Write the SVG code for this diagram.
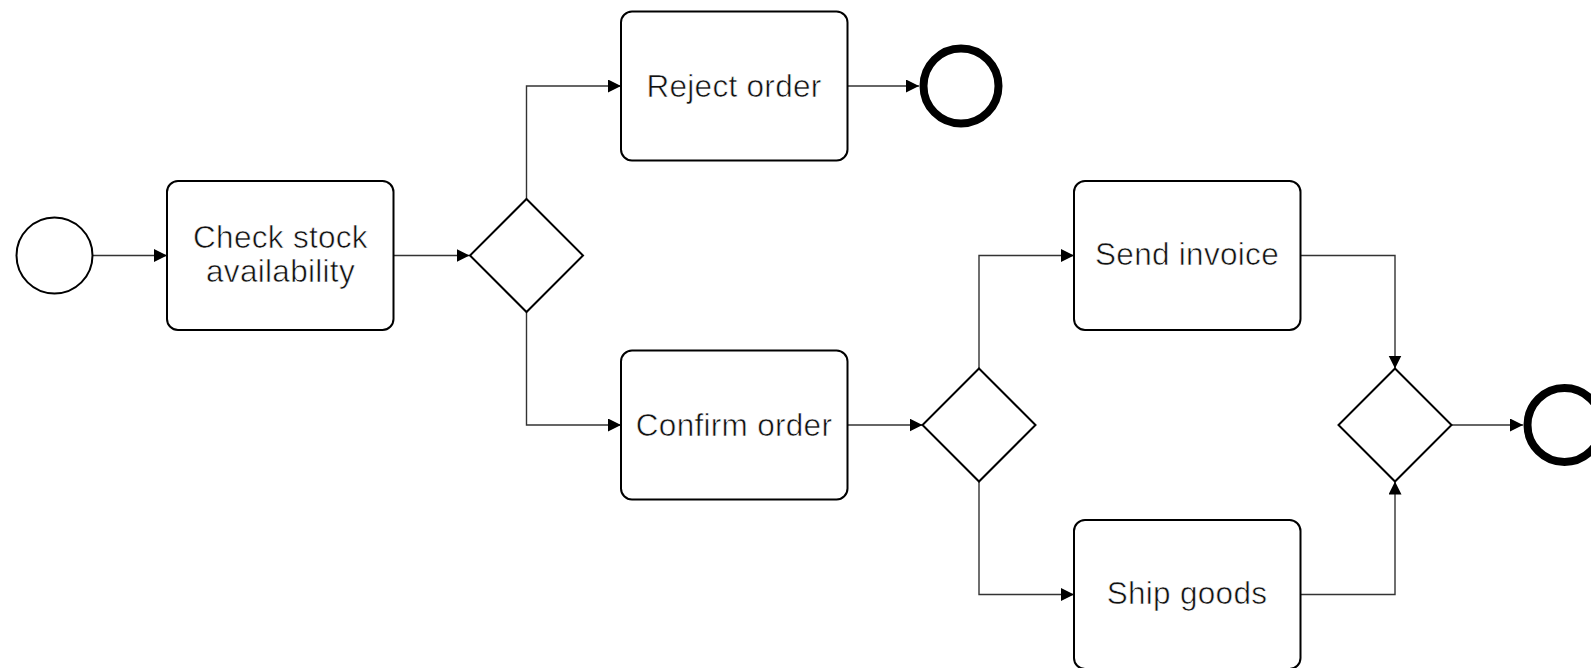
<svg xmlns="http://www.w3.org/2000/svg" width="1591" height="668" viewBox="0 0 1591 668">
  <style>
    .task { fill: #ffffff; stroke: #000000; stroke-width: 2; }
    .gateway { fill: #ffffff; stroke: #000000; stroke-width: 2; }
    .start { fill: #ffffff; stroke: #000000; stroke-width: 2; }
    .end { fill: #ffffff; stroke: #000000; stroke-width: 8; }
    .flow { fill: none; stroke: #333333; stroke-width: 1.4; marker-end: url(#arrow); }
    .label { font-family: "Liberation Sans", Arial, sans-serif; font-size: 31.5px; fill: #111111; stroke: #ffffff; stroke-width: 0.6; paint-order: fill stroke; letter-spacing: 0.3px; text-anchor: middle; }
  </style>
  <defs>
    <marker id="arrow" markerUnits="userSpaceOnUse" markerWidth="14" markerHeight="14" refX="13" refY="6.5" orient="auto">
      <path d="M0,0 L13,6.5 L0,13 z" fill="#000000"/>
    </marker>
  </defs>
  <rect width="1591" height="668" fill="#ffffff"/>

  <g id="connectors">
    <path class="flow" d="M93,255.5 H167"/>
    <path class="flow" d="M393.5,255.5 H469.5"/>
    <path class="flow" d="M526.5,199 V86 H621"/>
    <path class="flow" d="M526.5,312 V425 H621"/>
    <path class="flow" d="M847.5,86 H919"/>
    <path class="flow" d="M847.5,425 H922.5"/>
    <path class="flow" d="M979,368.5 V255.5 H1074"/>
    <path class="flow" d="M979,481.5 V594.5 H1074"/>
    <path class="flow" d="M1300.5,255.5 H1395 V368.5"/>
    <path class="flow" d="M1300.5,594.5 H1395 V481.5"/>
    <path class="flow" d="M1451.5,425 H1523"/>
  </g>

  <g id="start">
    <circle class="start" cx="54.5" cy="255.5" r="38"/>
  </g>

  <g id="check-stock">
    <rect class="task" x="167" y="181" width="226.5" height="149" rx="11" ry="11"/>
    <text class="label" x="280.5" y="247.5">Check stock</text>
    <text class="label" x="280.5" y="281.5">availability</text>
  </g>

  <g id="stock-gateway">
    <path class="gateway" d="M526.5,199 L583,255.5 L526.5,312 L470,255.5 Z"/>
  </g>

  <g id="reject-order">
    <rect class="task" x="621" y="11.5" width="226.5" height="149" rx="11" ry="11"/>
    <text class="label" x="734" y="97">Reject order</text>
  </g>

  <g id="end-rejected">
    <circle class="end" cx="961" cy="86" r="37.5"/>
  </g>

  <g id="confirm-order">
    <rect class="task" x="621" y="350.5" width="226.5" height="149" rx="11" ry="11"/>
    <text class="label" x="734" y="436">Confirm order</text>
  </g>

  <g id="split-gateway">
    <path class="gateway" d="M979,368.5 L1035.5,425 L979,481.5 L922.5,425 Z"/>
  </g>

  <g id="send-invoice">
    <rect class="task" x="1074" y="181" width="226.5" height="149" rx="11" ry="11"/>
    <text class="label" x="1187" y="264.5">Send invoice</text>
  </g>

  <g id="ship-goods">
    <rect class="task" x="1074" y="520" width="226.5" height="149" rx="11" ry="11"/>
    <text class="label" x="1187" y="603.5">Ship goods</text>
  </g>

  <g id="join-gateway">
    <path class="gateway" d="M1395,368.5 L1451.5,425 L1395,481.5 L1338.5,425 Z"/>
  </g>

  <g id="end-completed">
    <circle class="end" cx="1564.5" cy="425" r="37"/>
  </g>
</svg>
